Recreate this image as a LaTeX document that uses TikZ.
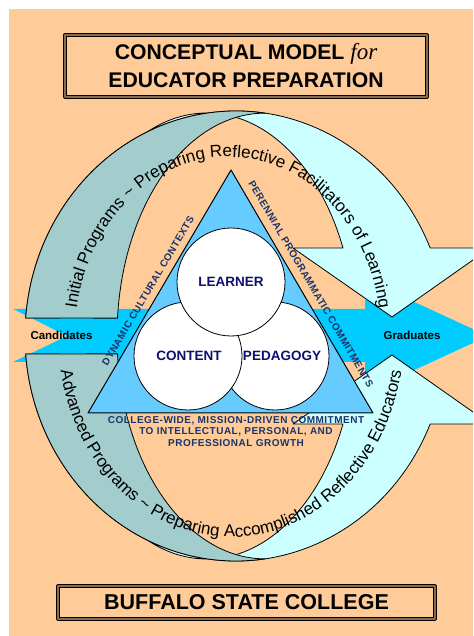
\documentclass[tikz,border=0pt]{standalone}
\usepackage{fontspec}
\setmainfont{Liberation Sans}
\newfontfamily\forfont{Liberation Serif}
\newfontfamily\edgefont[LetterSpace=5]{Liberation Sans}
\usetikzlibrary{calc,decorations.text}

\definecolor{ffcc99}{rgb}{1.,0.8,0.6}
\definecolor{a3cbcb}{rgb}{0.64,0.8,0.8}
\definecolor{ccffff}{rgb}{0.8,1.,1.}
\definecolor{qqccff}{rgb}{0.,0.8,1.}
\definecolor{triblue}{rgb}{0.4,0.8,1.}
\definecolor{navytext}{rgb}{0.06,0.06,0.44}
\definecolor{sidetext}{rgb}{0.1,0.2,0.42}
\definecolor{boxbrown}{rgb}{0.55,0.42,0.28}

\tikzset{
  ring/.style={line width=0.8pt, draw=black},
  framebox/.style={draw=black, line width=0.9pt, double=boxbrown, double distance=1.4pt, inner sep=0pt},
  venn/.style={circle, draw=black, line width=0.8pt, fill=white, minimum size=108pt, inner sep=0pt},
  venntext/.style={font=\bfseries\fontsize{13.5}{13.5}\selectfont, text=navytext, inner sep=0pt},
  edgetext/.style={font=\edgefont\bfseries\fontsize{10}{11.5}\selectfont, text=sidetext, inner sep=0pt},
  flowtext/.style={font=\bfseries\fontsize{11.5}{12}\selectfont, inner sep=0pt}
}

\begin{document}
\begin{tikzpicture}[line cap=round,line join=round,x=1pt,y=1pt]
				\useasboundingbox (0,0) rectangle (473,636);
				\clip (0,0) rectangle (473,636);
				\fill [ffcc99] (9,0) rectangle (473,627);
				\coordinate (c0) at (236,300);
				\coordinate (cl) at (207,300);
				\coordinate (ct) at (228,300);
				\coordinate (cb) at (231,300);
				%% candidates -> graduates
				\fill [qqccff] (13,327) -- (365,327) -- (365,336) -- (410,336) -- (488,300) -- (410,264) -- (365,264) -- (365,274) -- (13,274) -- (67,300) -- cycle;
				%% right halves with the arrow heads
				\draw [ring, fill=ccffff] ($(c0)+(23.02:211 and 225)$) arc [start angle=23.02, end angle=175.41, x radius=211pt, y radius=225pt]
					-- ($(cl)+(175.37:148 and 223)$) arc [start angle=175.37, end angle=23.24, x radius=148pt, y radius=223pt]
					-- (293,388) -- (392,319) -- (490,388) -- cycle;
				\draw [ring, fill=ccffff] ($(c0)+(-23.02:211 and 225)$) arc [start angle=-23.02, end angle=-175.41, x radius=211pt, y radius=225pt]
					-- ($(cl)+(-175.37:148 and 223)$) arc [start angle=-175.37, end angle=-23.24, x radius=148pt, y radius=223pt]
					-- (293,212) -- (392,281) -- (490,212) -- cycle;
				%% left halves
				\draw [ring, fill=a3cbcb] ($(c0)+(175.41:211 and 225)$) arc [start angle=175.41, end angle=82.1, x radius=211pt, y radius=225pt]
					arc [start angle=90, end angle=175.37, x radius=148pt, y radius=223pt] -- cycle;
				\draw [ring, fill=a3cbcb] ($(c0)+(184.59:211 and 225)$) arc [start angle=184.59, end angle=277.9, x radius=211pt, y radius=225pt]
					arc [start angle=270, end angle=184.63, x radius=148pt, y radius=223pt] -- cycle;
				\path [decorate, decoration={text along path, text align=center,
					text={|\fontsize{17}{17}\selectfont|Initial Programs {\textasciitilde} Preparing Reflective Facilitators of Learning}}]
					($(ct)+(170:153 and 179)$) arc [start angle=170, end angle=10, x radius=153pt, y radius=179pt];
				\path [decorate, decoration={text along path, text align=center,
					text={|\fontsize{17}{17}\selectfont|Advanced Programs {\textasciitilde} Preparing Accomplished Reflective Educators}}]
					($(cb)+(190:173 and 201)$) arc [start angle=190, end angle=350, x radius=173pt, y radius=201pt];
				\draw [line width=1.pt, fill=triblue] (231,466) -- (88,223) -- (373,223) -- cycle;
				\node [edgetext, rotate=59.5] (contexts) at (148,345) {DYNAMIC CULTURAL CONTEXTS};
				\node [edgetext, rotate=-59.7] (commitments) at (311,352) {PERENNIAL PROGRAMMATIC COMMITMENTS};
				\node [edgetext, align=center] (mission) at (236,204.5) {COLLEGE-WIDE, MISSION-DRIVEN COMMITMENT\\TO INTELLECTUAL, PERSONAL, AND\\PROFESSIONAL GROWTH};
				\node [venn] (pedagogy) at (275,280) {};
				\node [venn] (content) at (188,280) {};
				\node [venn] (learner) at (231,354) {};
				\node [venntext] (pedagogytext) at (282,280) {PEDAGOGY};
				\node [venntext] (contenttext) at (189,280) {CONTENT};
				\node [venntext] (learnertext) at (231,354) {LEARNER};
				\node [flowtext] (candidates) at (61.5,301) {Candidates};
				\node [flowtext] (graduates) at (412,301) {Graduates};
				\node [framebox, minimum width=362pt, minimum height=62pt, align=center,
					font=\bfseries\fontsize{21.2}{28}\selectfont] (title) at (246,570)
					{CONCEPTUAL MODEL {\forfont\mdseries\itshape\fontsize{23}{28}\selectfont for}\\EDUCATOR PREPARATION};
				\node [framebox, minimum width=377pt, minimum height=33pt,
					font=\bfseries\fontsize{21.5}{21.5}\selectfont] (college) at (246.5,33.5) {BUFFALO STATE COLLEGE};
\end{tikzpicture}
\end{document}
